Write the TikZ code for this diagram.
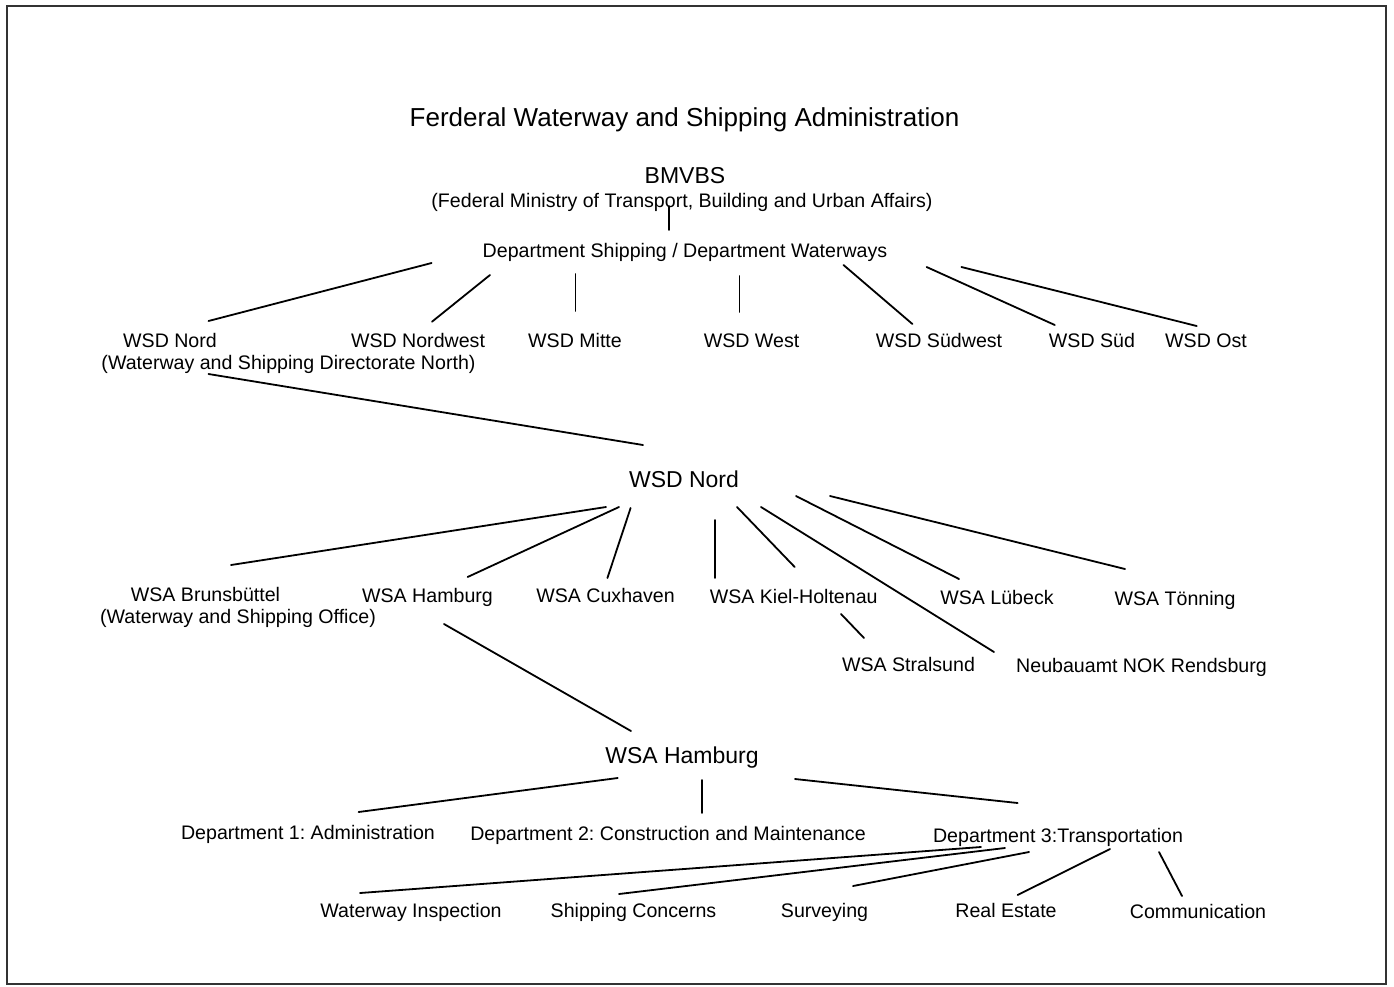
\documentclass[tikz,border=0pt]{standalone}
\usepackage{fontspec}
\setmainfont{Liberation Sans}
\frenchspacing
\begin{document}
\begin{tikzpicture}[x=1pt,y=-1pt,
  lbl/.style={anchor=base,inner sep=0pt,font=\fontsize{19.6}{23}\selectfont},
  head/.style={anchor=base,inner sep=0pt,font=\fontsize{23}{27}\selectfont},
  ttl/.style={anchor=base,inner sep=0pt,font=\fontsize{26}{30}\selectfont},
  conn/.style={line width=1.8pt,line cap=round},
  frame/.style={line width=1.5pt,draw=black!80}]
\useasboundingbox (0,0) rectangle (1394,986);
\draw[frame] (7,6) rectangle (1386,984);

% texts
\node[ttl] (title) at (684.5,126) {Ferderal Waterway and Shipping Administration};
\node[head] (bmvbs) at (685,183) {BMVBS};
\node[lbl] (fedmin) at (682,207) {(Federal Ministry of Transport, Building and Urban Affairs)};
\node[lbl] (dept) at (685,257) {Department Shipping / Department Waterways};

\node[lbl] (wsdnord) at (170,347) {WSD Nord};
\node[lbl] (dirnorth) at (288.5,369) {(Waterway and Shipping Directorate North)};
\node[lbl] (nordwest) at (418,347) {WSD Nordwest};
\node[lbl] (mitte) at (575,347) {WSD Mitte};
\node[lbl] (west) at (751.5,347) {WSD West};
\node[lbl] (suedwest) at (939,347) {WSD Südwest};
\node[lbl] (sued) at (1092,347) {WSD Süd};
\node[lbl] (ost) at (1206,347) {WSD Ost};

\node[head] (nordhead) at (684,487) {WSD Nord};

\node[lbl] (brunsb) at (205.5,601) {WSA Brunsbüttel};
\node[lbl] (office) at (238,623) {(Waterway and Shipping Office)};
\node[lbl] (hamburg) at (427.5,602) {WSA Hamburg};
\node[lbl] (cuxhaven) at (605.5,602) {WSA Cuxhaven};
\node[lbl] (kiel) at (793.7,603) {WSA Kiel-Holtenau};
\node[lbl] (luebeck) at (997,604) {WSA Lübeck};
\node[lbl] (toenning) at (1175,605) {WSA Tönning};
\node[lbl] (stralsund) at (908.5,671) {WSA Stralsund};
\node[lbl] (neubau) at (1141.5,672) {Neubauamt NOK Rendsburg};

\node[head] (hamhead) at (682,763) {WSA Hamburg};

\node[lbl] (dept1) at (308,839) {Department 1: Administration};
\node[lbl] (dept2) at (668,840) {Department 2: Construction and Maintenance};
\node[lbl] (dept3) at (1058,842) {Department 3:Transportation};

\node[lbl] (inspect) at (411,917) {Waterway Inspection};
\node[lbl] (shipping) at (633.5,917) {Shipping Concerns};
\node[lbl] (survey) at (824.5,917) {Surveying};
\node[lbl] (estate) at (1006,917) {Real Estate};
\node[lbl] (comm) at (1198,918) {Communication};

% connector ends
\coordinate (b0) at (669,206);   \coordinate (d0) at (669,230);
\coordinate (d1) at (431.6,263); \coordinate (w1) at (208.5,321);
\coordinate (d2) at (490,275);   \coordinate (w2) at (432,321.7);
\coordinate (d3) at (575.4,274); \coordinate (w3) at (575.4,311);
\coordinate (d4) at (739.4,276); \coordinate (w4) at (739.4,312);
\coordinate (d5) at (843.5,265); \coordinate (w5) at (912.4,324);
\coordinate (d6) at (926.6,267); \coordinate (w6) at (1054.8,325);
\coordinate (d7) at (961.4,267); \coordinate (w7) at (1196.7,326);
\coordinate (n0) at (208.5,374); \coordinate (h0) at (643,445);
\coordinate (h1) at (606,507);   \coordinate (a1) at (231,565);
\coordinate (h2) at (619,507);   \coordinate (a2) at (467.6,577);
\coordinate (h3) at (630.6,508); \coordinate (a3) at (607.4,578);
\coordinate (h4) at (715,520);   \coordinate (a4) at (715,578);
\coordinate (h5) at (737,507);   \coordinate (a5) at (794.7,567);
\coordinate (h6) at (761,507);   \coordinate (a6) at (994,652);
\coordinate (h7) at (796,496);   \coordinate (a7) at (959,579);
\coordinate (h8) at (830,496);   \coordinate (a8) at (1125,569);
\coordinate (k0) at (841,614);   \coordinate (s0) at (864,638);
\coordinate (m0) at (444,624);   \coordinate (m1) at (631,731);
\coordinate (g1) at (617.7,778); \coordinate (e1) at (358.6,812);
\coordinate (g2) at (702,780);   \coordinate (e2) at (702,813);
\coordinate (g3) at (795,779);   \coordinate (e3) at (1017.6,803);
\coordinate (t1) at (981,847);   \coordinate (u1) at (360,893);
\coordinate (t2) at (1005,848);  \coordinate (u2) at (619,894);
\coordinate (t3) at (1029,852);  \coordinate (u3) at (853,886);
\coordinate (t4) at (1110,849);  \coordinate (u4) at (1017.6,895);
\coordinate (t5) at (1159,852);  \coordinate (u5) at (1182,896);

% connectors
\draw[conn] (b0) -- (d0);
\foreach \i in {1,...,7} {\draw[conn] (d\i) -- (w\i);}
\draw[conn] (n0) -- (h0);
\foreach \i in {1,...,8} {\draw[conn] (h\i) -- (a\i);}
\draw[conn] (k0) -- (s0);
\draw[conn] (m0) -- (m1);
\foreach \i in {1,2,3} {\draw[conn] (g\i) -- (e\i);}
\foreach \i in {1,...,5} {\draw[conn] (t\i) -- (u\i);}
\end{tikzpicture}
\end{document}
